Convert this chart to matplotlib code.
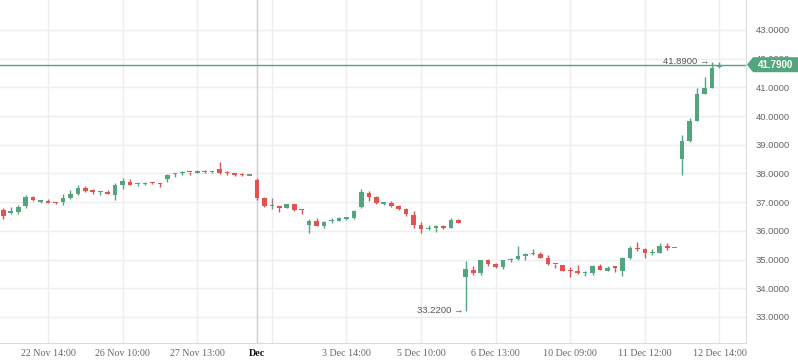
import matplotlib
matplotlib.use("Agg")
import matplotlib.pyplot as plt
from matplotlib.patches import Polygon, Rectangle

# ---- data ----
opens = [36.73, 36.64, 36.67, 36.87, 37.18, 37.02, 37.04, 37.00, 37.01, 37.15,
         37.29, 37.49, 37.39, 37.34, 37.37, 37.26, 37.60, 37.69, 37.63, 37.64,
         37.68, 37.65, 37.82, 37.97, 38.00, 38.06, 38.03, 38.06, 38.05, 38.16,
         38.03, 37.99, 37.96, 37.93, 37.77, 37.16, 36.87, 36.83, 36.81, 36.95,
         36.74, 36.22, 36.33, 36.18, 36.34, 36.36, 36.43, 36.46, 36.84, 37.33,
         37.19, 36.95, 36.97, 36.88, 36.77, 36.56, 36.21, 36.07, 36.10, 36.17,
         36.11, 36.38, 34.39, 34.64, 34.54, 34.99, 34.85, 34.75, 34.98, 35.02,
         35.12, 35.18, 35.20, 35.06, 34.86, 34.82, 34.62, 34.60, 34.52, 34.53,
         34.79, 34.61, 34.74, 34.61, 35.06, 35.39, 35.37, 35.22, 35.24, 35.48,
         35.40, 38.49, 39.13, 39.84, 40.78, 40.99, 41.72]
highs = [36.81, 36.83, 36.90, 37.25, 37.22, 37.07, 37.10, 37.00, 37.30, 37.43,
         37.60, 37.56, 37.45, 37.39, 37.43, 37.66, 37.84, 37.80, 37.70, 37.70,
         37.70, 37.67, 37.99, 38.03, 38.10, 38.06, 38.11, 38.12, 38.10, 38.40,
         38.08, 38.03, 38.00, 37.93, 37.84, 37.19, 37.14, 36.83, 36.95, 36.95,
         36.77, 36.40, 36.45, 36.36, 36.45, 36.50, 36.50, 36.74, 37.46, 37.40,
         37.23, 37.02, 37.04, 36.91, 36.81, 36.69, 36.30, 36.20, 36.20, 36.20,
         36.45, 36.41, 34.95, 34.78, 34.99, 35.02, 34.88, 34.99, 35.06, 35.48,
         35.23, 35.37, 35.27, 35.16, 34.86, 34.82, 34.74, 34.81, 34.60, 34.82,
         34.85, 34.76, 34.74, 35.10, 35.48, 35.61, 35.42, 35.37, 35.59, 35.58,
         35.40, 39.34, 39.92, 40.97, 41.37, 41.89, 41.87]
lows = [36.43, 36.58, 36.58, 36.81, 37.05, 36.98, 36.98, 36.94, 36.91, 37.12,
        37.26, 37.37, 37.30, 37.26, 37.30, 37.09, 37.47, 37.60, 37.57, 37.60,
        37.62, 37.54, 37.70, 37.88, 37.94, 37.96, 38.00, 38.00, 38.03, 37.98,
        37.95, 37.92, 37.92, 37.93, 37.09, 36.83, 36.76, 36.66, 36.81, 36.70,
        36.60, 35.94, 36.18, 36.11, 36.26, 36.36, 36.37, 36.40, 36.81, 37.03,
        36.95, 36.90, 36.84, 36.73, 36.53, 36.11, 35.94, 36.03, 35.96, 36.07,
        36.11, 36.29, 33.22, 34.46, 34.46, 34.79, 34.72, 34.67, 34.92, 34.99,
        34.99, 35.17, 35.06, 34.82, 34.72, 34.61, 34.40, 34.49, 34.44, 34.45,
        34.63, 34.61, 34.57, 34.44, 35.03, 35.31, 35.07, 35.17, 35.24, 35.34,
        35.40, 37.95, 39.11, 39.84, 40.78, 40.99, 41.67]
closes = [36.53, 36.66, 36.83, 37.18, 37.08, 37.04, 36.98, 36.96, 37.15, 37.29,
          37.49, 37.40, 37.37, 37.36, 37.30, 37.60, 37.74, 37.60, 37.66, 37.65,
          37.66, 37.63, 37.96, 38.00, 38.05, 38.04, 38.05, 38.04, 38.07, 38.02,
          38.01, 37.96, 37.94, 37.93, 37.16, 36.87, 36.87, 36.81, 36.95, 36.74,
          36.72, 36.36, 36.18, 36.32, 36.36, 36.45, 36.45, 36.68, 37.35, 37.19,
          36.98, 36.97, 36.88, 36.77, 36.60, 36.22, 36.08, 36.09, 36.17, 36.10,
          36.37, 36.29, 34.67, 34.53, 34.99, 34.86, 34.75, 34.99, 35.00, 35.12,
          35.19, 35.20, 35.06, 34.86, 34.84, 34.61, 34.60, 34.52, 34.54, 34.79,
          34.65, 34.71, 34.72, 35.06, 35.40, 35.37, 35.24, 35.24, 35.47, 35.41,
          35.40, 39.13, 39.83, 40.77, 40.97, 41.67, 41.79]

tick_index = [6, 16, 26, 34, 46, 56, 66, 76, 86, 96]
tick_labels = ["22 Nov 14:00", "26 Nov 10:00", "27 Nov 13:00", "Dec",
               "3 Dec 14:00", "5 Dec 10:00", "6 Dec 13:00", "10 Dec 09:00",
               "11 Dec 12:00", "12 Dec 14:00"]
price_ticks = [33, 34, 35, 36, 37, 38, 39, 40, 41, 42, 43]
last_price = 41.79
max_label = (95, 41.89)
min_label = (62, 33.22)

UP = "#53a57d"
DOWN = "#e2524f"
FLAT = "#8a8a8a"
GRID = "#eceef1"

fig = plt.figure(figsize=(7.98, 3.63), dpi=100)
ax = fig.add_axes([0, 1 - 343 / 363, 746 / 798, 343 / 363])
ax.set_xlim(-0.44, 99.56)
ax.set_ylim(32.094, 44.045)

# grid
for v in price_ticks:
    ax.axhline(v, color=GRID, lw=1, zorder=0)
for t in tick_index:
    ax.axvline(t, color=GRID, lw=1, zorder=0)
ax.axvline(36, color=GRID, lw=1, zorder=0)
ax.axvline(34, color="#cfd2d6", lw=1, zorder=0.5)

# candles
bw = 0.62
for i, (o, h, l, c) in enumerate(zip(opens, highs, lows, closes)):
    if c > o:
        col = UP
    elif c < o:
        col = DOWN
    else:
        col = FLAT
    ax.plot([i, i], [l, h], color=col, lw=1, zorder=2, solid_capstyle="butt")
    bottom = min(o, c)
    height = max(abs(c - o), 0.045)
    ax.add_patch(Rectangle((i - bw / 2, bottom), bw, height, facecolor=col,
                           edgecolor="none", zorder=3))

# last price line
ax.axhline(last_price, color=UP, lw=1, zorder=4)

# annotations for max / min
fam = ["Liberation Sans", "DejaVu Sans"]
ax.text(max_label[0] - 0.35, max_label[1], f"{max_label[1]:.4f} →", ha="right",
        va="center", fontsize=6.8, color="#555555", family=fam, zorder=5)
ax.text(min_label[0] - 0.35, min_label[1], f"{min_label[1]:.4f} →", ha="right",
        va="center", fontsize=6.8, color="#555555", family=fam, zorder=5)

# axes styling
for s in ["top", "left"]:
    ax.spines[s].set_visible(False)
ax.spines["right"].set_color("#d8dbe0")
ax.spines["bottom"].set_color("#d8dbe0")
ax.yaxis.tick_right()
ax.set_yticks(price_ticks)
ax.set_yticklabels([f"{v:.4f}" for v in price_ticks])
ax.tick_params(axis="y", length=0, pad=7, labelsize=6.8, labelcolor="#666666")
ax.set_xticks(tick_index)
ax.set_xticklabels(tick_labels)
ax.tick_params(axis="x", length=0, pad=4, labelsize=7.2, labelcolor="#666666")
for lab in ax.get_yticklabels():
    lab.set_family(fam)
for lab in ax.get_xticklabels():
    lab.set_family(["Liberation Serif", "DejaVu Serif"])
    if lab.get_text() == "Dec":
        lab.set_color("#111111")
        lab.set_fontweight("bold")

# price label box at right
fig.canvas.draw()
yc = ax.transData.transform((0, last_price))[1]
x0 = ax.transAxes.transform((1, 0))[0]
W = fig.bbox.width
hh = 7.5
poly = Polygon([(x0 + 1, yc), (x0 + 7, yc + hh), (W, yc + hh), (W, yc - hh),
                (x0 + 7, yc - hh)], closed=True, transform=None,
               facecolor=UP, edgecolor="none", zorder=10)
fig.add_artist(poly)
fig.text((x0 + 6 + W) / 2 / W, yc / fig.bbox.height, f"{last_price:.4f}",
         ha="center", va="center", color="white", fontsize=7, fontweight="bold",
         family=fam, zorder=11)

fig.savefig("out.png", dpi=100)
